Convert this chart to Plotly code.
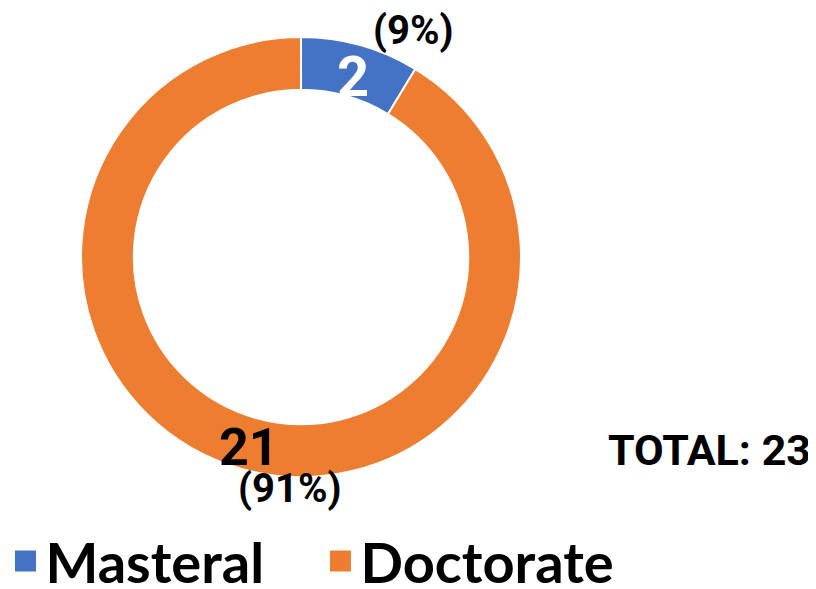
import plotly.graph_objects as go

categories = ["Masteral", "Doctorate"]
counts = [2, 21]
colors = ["#4472C4", "#ED7D31"]

total = sum(counts)
pcts = [round(100 * c / total) for c in counts]

FONT = "Lato, 'Liberation Sans', sans-serif"
NUMFONT = "Roboto, 'Liberation Sans', sans-serif"

fig = go.Figure()
fig.add_trace(go.Pie(
    labels=categories,
    values=counts,
    hole=0.76,
    sort=False,
    direction="clockwise",
    rotation=0,
    marker=dict(colors=colors, line=dict(color="white", width=2)),
    textinfo="none",
    hoverinfo="label+value+percent",
    showlegend=False,
    domain=dict(x=[0.0895, 0.6287], y=[0.2037, 0.9507]),
))

# legend entries (square swatches), one legend per entry for exact spacing
legend_ids = ["legend", "legend2"]
for name, col, lid in zip(categories, colors, legend_ids):
    fig.add_trace(go.Scatter(
        x=[None], y=[None], mode="markers", name=name,
        marker=dict(symbol="square", size=22, color=col,
                    line=dict(color=col, width=8)),
        hoverinfo="skip", legend=lid,
    ))

annots = [
    dict(x=345, y=69, text=f"<b>{counts[0]}</b>", size=56, color="white", anchor="center"),
    dict(x=405, y=22.5, text=f"<b>({pcts[0]}%)</b>", size=40, color="black", anchor="center"),
    dict(x=240.5, y=439, text=f"<b>{counts[1]}</b>", size=52, color="black", anchor="center"),
    dict(x=282, y=480, text=f"<b>({pcts[1]}%)</b>", size=40, color="black", anchor="center"),
    dict(x=805, y=442, text=f"<b>TOTAL: {total}</b>", size=43, color="black", anchor="right"),
]
W, H = 816, 589
for a in annots:
    fig.add_annotation(
        x=a["x"] / W, y=1 - a["y"] / H, xref="paper", yref="paper",
        text=a["text"], showarrow=False, xanchor=a["anchor"], yanchor="middle",
        font=dict(family=NUMFONT, size=a["size"], color=a["color"]),
    )

leg_common = dict(
    orientation="h", y=-0.0119, xanchor="left", yanchor="bottom",
    bgcolor="rgba(0,0,0,0)",
    font=dict(family=FONT, size=56, color="black", weight="bold"),
    itemsizing="trace", itemwidth=30,
)

fig.update_layout(
    width=W, height=H,
    margin=dict(l=0, r=0, t=0, b=0, autoexpand=False),
    paper_bgcolor="white",
    plot_bgcolor="rgba(0,0,0,0)",
    xaxis=dict(visible=False),
    yaxis=dict(visible=False),
    showlegend=True,
    legend=dict(x=-0.0031, **leg_common),
    legend2=dict(x=0.3829, **leg_common),
)

fig.write_html("out.html")
